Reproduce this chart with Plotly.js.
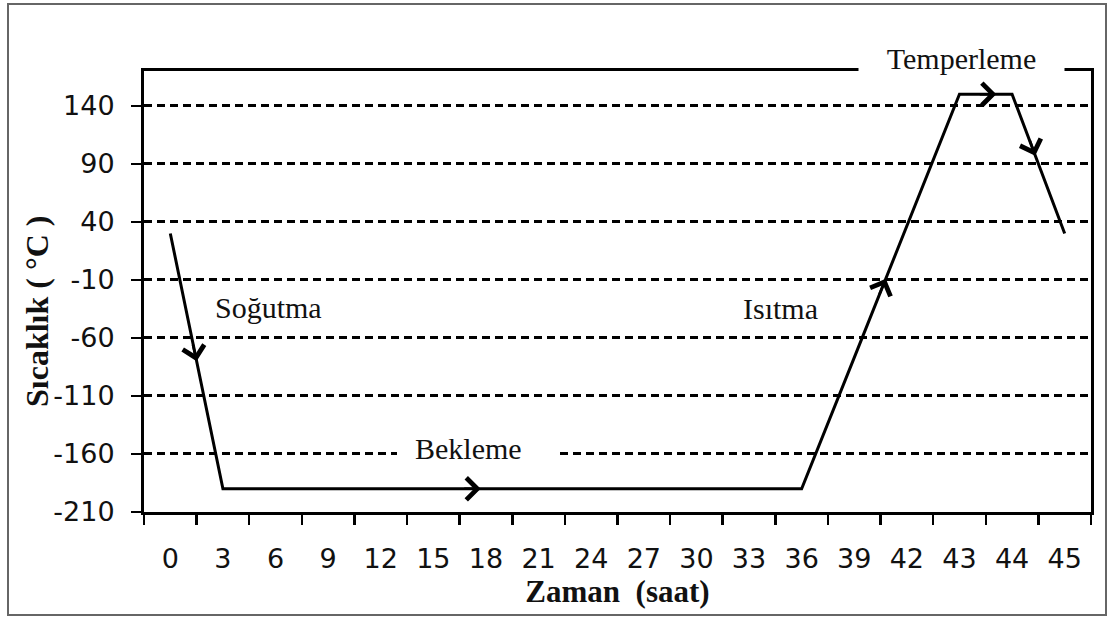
<!DOCTYPE html>
<html>
<head>
<meta charset="utf-8">
<script src="https://cdn.plot.ly/plotly-3.0.1.min.js"></script>
<style>
html,body{margin:0;padding:0;background:#fff;}
#chart{width:1113px;height:618px;}
</style>
</head>
<body>
<div id="chart"></div>
<script>
// Time categories (hours) as printed on the x axis
const hours = ['0','3','6','9','12','15','18','21','24','27','30','33','36','39','42','43','44','45'];
// Temperature (°C) at each category
const temps = [30,-190,-190,-190,-190,-190,-190,-190,-190,-190,-190,-190,-190,-77,37,150,150,30];
// y tick values and their printed labels
const yTicks = [-210,-160,-110,-60,-10,40,90,140];
const yTickText = ['-210','-160','-110','-60','-10','40','90','140'];
// phase labels and axis titles
const phaseNames = ['Soğutma','Bekleme','Isıtma','Temperleme'];
const xTitle = 'Zaman  (saat)';
const yTitle = 'Sıcaklık ( °C )';
// direction arrows on the curve: [category index, temperature, tail dx px, tail dy px]
const arrowPts = [[0.5,-80,-4,-18],[5.9,-190,-18,0],[13.6,-9,-7,17],[15.7,150,-18,0],[16.44,97,-6,-17]];

const serif = '"Liberation Serif", "Times New Roman", serif';
const sans = '"DejaVu Sans", Verdana, sans-serif';

const trace = {
  x: hours, y: temps, type: 'scatter', mode: 'lines',
  line: {color: '#000', width: 3}, hoverinfo: 'skip'
};

const pxX = p => (p - 144) / 947;
const pxY = p => (512 - p) / 441;

const annotations = [
  {text: phaseNames[0], x: pxX(268), y: pxY(307)},
  {text: phaseNames[1], x: pxX(468), y: pxY(448)},
  {text: phaseNames[2], x: pxX(780), y: pxY(308)},
  {text: phaseNames[3], x: pxX(961), y: pxY(58), bgcolor: '#fff', width: 203, height: 36},
  {text: '<b>' + yTitle + '</b>', x: pxX(37), y: pxY(312), textangle: -90, font: {family: serif, size: 32, color: '#111'}}
].map(a => Object.assign({xref: 'paper', yref: 'paper', showarrow: false,
  xanchor: 'center', yanchor: 'middle', font: {family: serif, size: 30, color: '#111'}}, a));

arrowPts.forEach(p => annotations.push({
  xref: 'x', yref: 'y', x: p[0], y: p[1], ax: p[2], ay: p[3], text: '',
  showarrow: true, arrowhead: 4, arrowsize: 1.7, arrowwidth: 2.5, arrowcolor: '#000', standoff: 0
}));

const layout = {
  width: 1113, height: 618,
  margin: {l: 144, r: 22, t: 71, b: 106},
  paper_bgcolor: '#fff', plot_bgcolor: '#fff',
  showlegend: false,
  xaxis: {
    type: 'category', range: [-0.5, 17.5],
    showgrid: false, zeroline: false,
    showline: true, linecolor: '#000', linewidth: 3, mirror: true,
    ticks: 'outside', tickson: 'boundaries', ticklen: 10, tickwidth: 2.5, tickcolor: '#000',
    tickfont: {family: sans, size: 27, color: '#111'},
    ticklabelstandoff: 21,
    title: {text: '<b>' + xTitle + '</b>', font: {family: serif, size: 31, color: '#111'}, standoff: 4}
  },
  yaxis: {
    range: [-210, 170], tickvals: yTicks, ticktext: yTickText,
    showgrid: true, gridcolor: '#000', gridwidth: 3, griddash: '8px,5px',
    zeroline: false,
    showline: true, linecolor: '#000', linewidth: 3, mirror: true,
    ticks: 'outside', ticklen: 10, tickwidth: 2.5, tickcolor: '#000',
    tickfont: {family: sans, size: 27, color: '#111'},
    ticklabelstandoff: 11
  },
  shapes: [
    {type: 'rect', xref: 'paper', yref: 'paper', x0: pxX(8), x1: pxX(1106), y0: pxY(615), y1: pxY(4),
     line: {color: '#666', width: 2}, fillcolor: 'rgba(0,0,0,0)', layer: 'above'},
    {type: 'rect', xref: 'paper', yref: 'paper', x0: pxX(397), x1: pxX(557), y0: pxY(468), y1: pxY(440),
     line: {width: 0}, fillcolor: '#fff', layer: 'above'}
  ],
  annotations: annotations
};

Plotly.newPlot('chart', [trace], layout, {displayModeBar: false, staticPlot: true});
</script>
</body>
</html>
